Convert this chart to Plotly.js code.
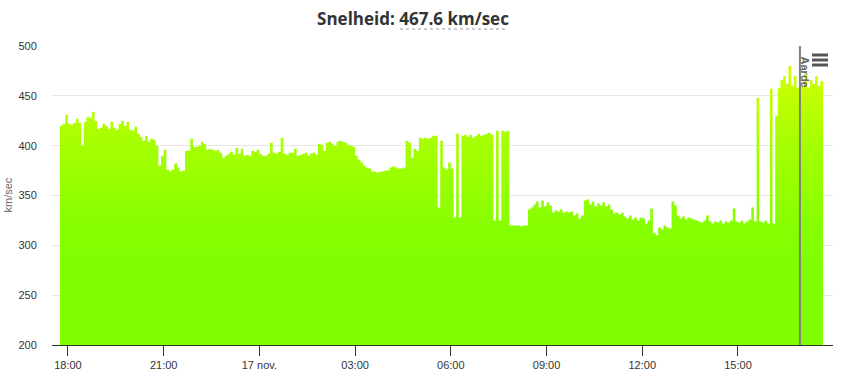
<!DOCTYPE html>
<html>
<head>
<meta charset="utf-8">
<script src="https://cdn.plot.ly/plotly-3.0.1.min.js"></script>
<style>
  html, body { margin: 0; padding: 0; background: #ffffff; }
  #chart { width: 846px; height: 374px; }
</style>
</head>
<body>
<div id="chart"></div>
<script>
// ---- data (solar wind speed, km/sec, 5-minute samples) ----
const seriesStart = '2024-11-16T17:45:00';
const stepMinutes = 5;
const speed = [
  420, 422, 431, 422, 421, 423, 427, 423, 400, 424, 429, 428,
  434, 425, 417, 418, 422, 420, 417, 424, 418, 416, 422, 425,
  420, 424, 416, 415, 419, 412, 409, 405, 410, 404, 407, 406,
  400, 380, 390, 396, 376, 374, 376, 382, 378, 374, 375, 395,
  395, 407, 399, 399, 400, 404, 402, 396, 397, 396, 395, 396,
  393, 388, 390, 392, 394, 391, 398, 392, 397, 390, 391, 390,
  395, 394, 396, 392, 390, 390, 392, 403, 393, 392, 394, 408,
  392, 391, 393, 393, 397, 390, 391, 392, 393, 390, 392, 393,
  391, 402, 401, 395, 403, 404, 402, 400, 404, 405, 404, 403,
  401, 400, 399, 390, 386, 383, 380, 378, 377, 374, 374, 373,
  374, 374, 375, 375, 378, 379, 378, 377, 377, 378, 405, 403,
  388, 397, 395, 408, 407, 408, 407, 408, 410, 410, 338, 405,
  378, 376, 383, 377, 328, 412, 328, 410, 411, 409, 411, 408,
  410, 412, 410, 411, 412, 413, 411, 325, 415, 325, 415, 414,
  415, 320, 320, 320, 320, 319, 320, 320, 336, 338, 341, 344,
  338, 345, 339, 343, 340, 333, 335, 334, 336, 333, 334, 333,
  334, 330, 332, 327, 330, 345, 346, 341, 344, 339, 342, 340,
  343, 339, 341, 336, 332, 333, 331, 333, 329, 327, 330, 326,
  328, 325, 328, 327, 322, 325, 337, 312, 310, 318, 316, 320,
  318, 317, 344, 340, 330, 327, 329, 326, 328, 327, 326, 325,
  324, 323, 325, 330, 324, 322, 324, 323, 325, 322, 324, 323,
  325, 337, 324, 323, 325, 322, 324, 326, 338, 324, 448, 324,
  323, 325, 322, 457, 322, 430, 458, 466, 470, 462, 480, 460,
  470, 458, 464, 460, 472, 458, 466, 462, 470, 460, 465, 467.6
];
const currentSpeed = 467.6;
const earthTime = '2024-11-17T16:56:30';
const earthLabel = 'Aarde';
const xRange = ['2024-11-16T17:30:00', '2024-11-17T17:58:40'];
const yTicks = [200, 250, 300, 350, 400, 450, 500];
const xTickVals = ['2024-11-16T18:00:00', '2024-11-16T21:00:00', '2024-11-17T00:00:00',
  '2024-11-17T03:00:00', '2024-11-17T06:00:00', '2024-11-17T09:00:00',
  '2024-11-17T12:00:00', '2024-11-17T15:00:00'];
const xTickText = ['18:00', '21:00', '17 nov.', '03:00', '06:00', '09:00', '12:00', '15:00'];

// ---- build timestamps ----
function pad(n) { return String(n).padStart(2, '0'); }
const t0 = new Date(seriesStart + 'Z').getTime();
const times = speed.map((_, i) => {
  const d = new Date(t0 + i * stepMinutes * 60000);
  return d.getUTCFullYear() + '-' + pad(d.getUTCMonth() + 1) + '-' + pad(d.getUTCDate()) +
    ' ' + pad(d.getUTCHours()) + ':' + pad(d.getUTCMinutes());
});

const trace = {
  type: 'scatter',
  mode: 'lines',
  x: times,
  y: speed,
  line: { width: 0, color: '#9aff00', shape: 'hv' },
  fill: 'tozeroy',
  fillgradient: {
    type: 'vertical',
    start: 200,
    stop: 490,
    colorscale: [
      [0, '#7fff00'], [0.25, '#7fff00'], [0.4, '#85ff00'], [0.56, '#97ff00'],
      [0.73, '#aaff00'], [0.9, '#c8ff00'], [1, '#d8ff00']
    ]
  },
  hoverinfo: 'skip'
};

const L = 52, R = 13, T = 46, B = 29, W = 846, H = 374;
const pw = W - L - R, ph = H - T - B;
const px = v => (v - L) / pw;
const py = v => (H - B - v) / ph;

const tickFont = { family: 'Liberation Sans, Arial, sans-serif', size: 11, color: '#333333' };

const layout = {
  width: W, height: H,
  margin: { l: L, r: R, t: T, b: B, pad: 0 },
  paper_bgcolor: '#ffffff',
  plot_bgcolor: '#ffffff',
  showlegend: false,
  title: {
    text: '<b>Snelheid: ' + currentSpeed + ' km/sec</b>',
    xref: 'container', yref: 'container',
    x: 413 / W, y: 1 - 19 / H, xanchor: 'center', yanchor: 'middle',
    font: { family: 'Open Sans, sans-serif', size: 17, color: '#333333' }
  },
  xaxis: {
    type: 'date',
    range: xRange,
    tickvals: xTickVals,
    ticktext: xTickText,
    ticks: 'outside', ticklen: 10, tickwidth: 1, tickcolor: '#333333',
    showline: true, linecolor: '#333333', linewidth: 1,
    showgrid: false, zeroline: false,
    tickfont: tickFont,
    fixedrange: true
  },
  yaxis: {
    range: [200, 500],
    tickvals: yTicks,
    ticktext: yTicks.map(String),
    ticks: 'outside', ticklen: 12, tickcolor: 'rgba(0,0,0,0)',
    showline: false, zeroline: false,
    showgrid: true, gridcolor: '#e6e6e6', gridwidth: 1,
    tickfont: tickFont,
    fixedrange: true
  },
  shapes: [
    { type: 'line', xref: 'x', yref: 'paper', x0: earthTime, x1: earthTime, y0: 0, y1: 1,
      line: { color: '#808080', width: 2 }, layer: 'above' },
    { type: 'line', xref: 'paper', yref: 'paper', x0: px(400), x1: px(507), y0: py(29), y1: py(29),
      line: { color: '#999999', width: 1, dash: 'dot' } },
    { type: 'line', xref: 'paper', yref: 'paper', x0: px(812), x1: px(828), y0: py(55), y1: py(55),
      line: { color: '#555555', width: 3 } },
    { type: 'line', xref: 'paper', yref: 'paper', x0: px(812), x1: px(828), y0: py(60), y1: py(60),
      line: { color: '#555555', width: 3 } },
    { type: 'line', xref: 'paper', yref: 'paper', x0: px(812), x1: px(828), y0: py(65), y1: py(65),
      line: { color: '#555555', width: 3 } }
  ],
  annotations: [
    { text: earthLabel, xref: 'x', yref: 'paper', x: earthTime, y: py(55),
      xanchor: 'center', yanchor: 'top', xshift: 6, textangle: 90, showarrow: false,
      font: { family: 'Liberation Sans, Arial, sans-serif', size: 11, color: '#666666', weight: 700 } },
    { text: 'km/sec', xref: 'paper', yref: 'paper', x: px(7), y: 0.5,
      xanchor: 'center', yanchor: 'middle', textangle: -90, showarrow: false,
      font: { family: 'Liberation Sans, Arial, sans-serif', size: 11, color: '#666666' } }
  ]
};

Plotly.newPlot('chart', [trace], layout, { staticPlot: true, displayModeBar: false });
</script>
</body>
</html>
